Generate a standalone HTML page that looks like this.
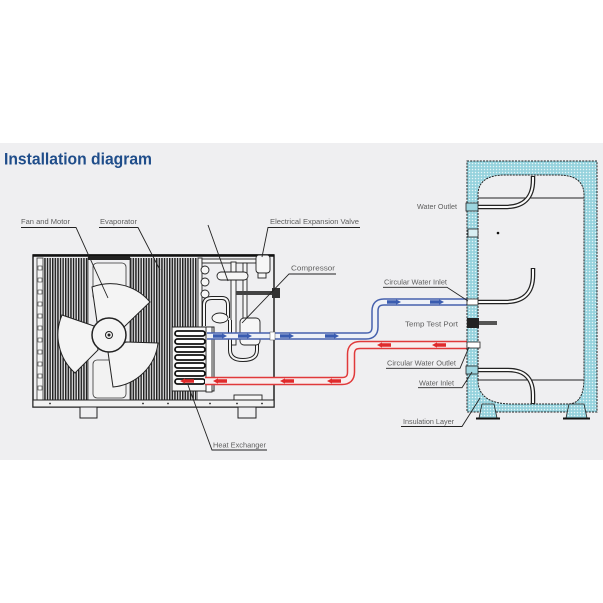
<!DOCTYPE html>
<html><head><meta charset="utf-8"><style>
html,body{margin:0;padding:0;background:#fff;}
svg{display:block;}
text{font-family:"Liberation Sans",sans-serif;}
</style></head><body>
<svg width="603" height="603" viewBox="0 0 603 603" xmlns="http://www.w3.org/2000/svg">
<defs>
<pattern id="fins" x="0" y="0" width="2.6" height="10" patternUnits="userSpaceOnUse">
<rect x="0" y="0" width="1.5" height="10" fill="#222"/>
</pattern>
<pattern id="dots" x="0" y="0" width="3" height="3" patternUnits="userSpaceOnUse">
<rect width="3" height="3" fill="#95d2dd"/>
<circle cx="1.5" cy="1.5" r="0.75" fill="#e6f5f7"/>
</pattern>
</defs>
<rect x="0" y="0" width="603" height="603" fill="#fff"/>
<rect x="0" y="143" width="603" height="317" fill="#efeff1"/>
<text x="4" y="164.5" font-size="16.5" font-weight="bold" fill="#1f4d8a" textLength="148" lengthAdjust="spacingAndGlyphs">Installation diagram</text>

<!-- Heat pump unit -->
<rect x="33" y="255" width="241" height="152" fill="#efeff1" stroke="#222" stroke-width="1.5"/>
<line x1="33" y1="255.5" x2="274" y2="255.5" stroke="#111" stroke-width="2.5"/>
<rect x="37" y="258" width="6" height="142" fill="#f4f4f4" stroke="#333" stroke-width="0.8"/>
<g fill="#fff" stroke="#333" stroke-width="0.6">
<rect x="38" y="266" width="4" height="4"/><rect x="38" y="278" width="4" height="4"/>
<rect x="38" y="290" width="4" height="4"/><rect x="38" y="302" width="4" height="4"/>
<rect x="38" y="314" width="4" height="4"/><rect x="38" y="326" width="4" height="4"/>
<rect x="38" y="338" width="4" height="4"/><rect x="38" y="350" width="4" height="4"/>
<rect x="38" y="362" width="4" height="4"/><rect x="38" y="374" width="4" height="4"/>
<rect x="38" y="386" width="4" height="4"/>
</g>
<rect x="44" y="258" width="44" height="142" fill="url(#fins)"/>
<rect x="130" y="258" width="68" height="142" fill="url(#fins)"/>
<rect x="88" y="258" width="42" height="142" fill="#efeff1" stroke="#333" stroke-width="0.8"/>
<rect x="88" y="256" width="42" height="4" fill="#222"/>
<rect x="93" y="263" width="33" height="37" rx="4" fill="#f2f2f2" stroke="#333" stroke-width="0.8"/>
<rect x="93" y="360" width="33" height="38" rx="4" fill="#f2f2f2" stroke="#333" stroke-width="0.8"/>

<!-- fan -->
<g fill="#f4f4f4" stroke="#222" stroke-width="1">
<path d="M97,322 L92,287 A52,52 0 0 1 150,302 L124,327 Z"/>
<path d="M94,326 L62,315 A51,51 0 0 0 75,373 L98,350 Z"/>
<path d="M126,342 L158,343 A50,50 0 0 1 113,387 L108,352 Z"/>
<circle cx="109" cy="335" r="17" stroke-width="1.5"/>
<circle cx="109" cy="335" r="3.5"/>
</g>
<circle cx="109" cy="335" r="1.5" fill="#222"/>

<!-- compressor section -->
<g fill="#f6f6f6" stroke="#222" stroke-width="0.9">
<rect x="198" y="258" width="4" height="72"/>
<rect x="202" y="259" width="54" height="4"/>
<rect x="256" y="255" width="14" height="18" rx="3"/>
<rect x="258" y="273" width="8" height="5"/>
<rect x="231" y="262" width="5" height="83"/>
<rect x="243" y="263" width="4" height="67"/>
<rect x="217" y="272" width="31" height="8" rx="4"/>
<path d="M230,320 L230,350 Q230,360 243,360 Q257,360 257,350 L257,320" fill="none" stroke-width="4"/>
<path d="M230,320 L230,350 Q230,360 243,360 Q257,360 257,350 L257,320" fill="none" stroke="#f6f6f6" stroke-width="2"/>
<rect x="240" y="318" width="20" height="27" rx="4"/>
<circle cx="205" cy="270" r="4"/><circle cx="205" cy="282" r="4"/><circle cx="205" cy="294" r="4"/>
<path d="M204,326 L204,305 Q204,298 212,298 L222,298 Q228,298 228,305 L228,318" fill="none" stroke-width="4"/>
<path d="M204,326 L204,305 Q204,298 212,298 L222,298 Q228,298 228,305 L228,318" fill="none" stroke="#f6f6f6" stroke-width="2"/>
<ellipse cx="220" cy="318" rx="8" ry="5"/>
<rect x="234" y="395" width="28" height="5"/>
</g>
<rect x="236" y="291" width="40" height="4" fill="#444"/>
<rect x="272" y="288" width="8" height="10" fill="#333"/>

<!-- heat exchanger -->
<rect x="172" y="327" width="42" height="64" fill="#f6f6f6" stroke="#222" stroke-width="1"/>
<g fill="#fff" stroke="#111" stroke-width="1.8">
<rect x="175" y="331" width="30" height="5" rx="2.5"/>
<rect x="175" y="339" width="30" height="5" rx="2.5"/>
<rect x="175" y="347" width="30" height="5" rx="2.5"/>
<rect x="175" y="355" width="30" height="5" rx="2.5"/>
<rect x="175" y="363" width="30" height="5" rx="2.5"/>
<rect x="175" y="371" width="30" height="5" rx="2.5"/>
<rect x="175" y="379" width="30" height="5" rx="2.5"/>
</g>
<rect x="206" y="327" width="6" height="65" fill="#fff" stroke="#222" stroke-width="0.9"/>

<!-- base and feet -->
<rect x="33" y="400" width="241" height="7" fill="#f2f2f2" stroke="#222" stroke-width="1"/>
<g fill="#222"><circle cx="50" cy="403.5" r="0.9"/><circle cx="143" cy="403.5" r="0.9"/><circle cx="168" cy="403.5" r="0.9"/><circle cx="210" cy="403.5" r="0.9"/><circle cx="237" cy="403.5" r="0.9"/><circle cx="262" cy="403.5" r="0.9"/></g>
<rect x="80" y="407" width="17" height="11" fill="#efeff1" stroke="#222" stroke-width="1"/>
<rect x="238" y="407" width="18" height="11" fill="#efeff1" stroke="#222" stroke-width="1"/>

<!-- pipes -->
<path d="M207,336 L366,336 Q375,336 375,327 L375,311 Q375,302 384,302 L467,302" fill="none" stroke="#4661ad" stroke-width="7.5"/>
<path d="M207,336 L366,336 Q375,336 375,327 L375,311 Q375,302 384,302 L467,302" fill="none" stroke="#eef1f7" stroke-width="4.5"/>
<path d="M205,381 L342,381 Q351,381 351,372 L351,354 Q351,345 360,345 L467,345" fill="none" stroke="#e0393a" stroke-width="8.5"/>
<path d="M205,381 L342,381 Q351,381 351,372 L351,354 Q351,345 360,345 L467,345" fill="none" stroke="#f8eeee" stroke-width="5.5"/>
<rect x="270" y="332" width="5" height="8" fill="#fff" stroke="#555" stroke-width="0.5"/>

<g fill="#3a5cb0">
<polygon points="213,334.3 222,334.3 222,333.4 227,336 222,338.6 222,337.7 213,337.7"/>
<polygon points="238,334.3 247,334.3 247,333.4 252,336 247,338.6 247,337.7 238,337.7"/>
<polygon points="280,334.3 289,334.3 289,333.4 294,336 289,338.6 289,337.7 280,337.7"/>
<polygon points="325,334.3 334,334.3 334,333.4 339,336 334,338.6 334,337.7 325,337.7"/>
<polygon points="387,300.3 396,300.3 396,299.4 401,302 396,304.6 396,303.7 387,303.7"/>
<polygon points="430,300.3 439,300.3 439,299.4 444,302 439,304.6 439,303.7 430,303.7"/>
</g>
<g fill="#e02a2b">
<polygon points="180,381 185,378.4 185,379.3 194,379.3 194,382.7 185,382.7 185,383.6"/>
<polygon points="213,381 218,378.4 218,379.3 227,379.3 227,382.7 218,382.7 218,383.6"/>
<polygon points="280,381 285,378.4 285,379.3 294,379.3 294,382.7 285,382.7 285,383.6"/>
<polygon points="327,381 332,378.4 332,379.3 341,379.3 341,382.7 332,382.7 332,383.6"/>
<polygon points="377,345 382,342.4 382,343.3 391,343.3 391,346.7 382,346.7 382,347.6"/>
<polygon points="432,345 437,342.4 437,343.3 446,343.3 446,346.7 437,346.7 437,347.6"/>
</g>

<!-- tank -->
<rect x="467" y="161" width="130" height="251" fill="url(#dots)" stroke="#222" stroke-width="1" stroke-dasharray="2 1.2"/>
<path d="M478,380 L478,195 Q478,175 505,175 L558,175 Q584,175 584,195 L584,378 Q584,404 568,404 L512,404 Q478,404 478,380 Z" fill="#efeff1" stroke="#222" stroke-width="1" stroke-dasharray="2 1"/>
<line x1="478" y1="198" x2="584" y2="198" stroke="#222" stroke-width="1"/>
<line x1="478" y1="380" x2="584" y2="380" stroke="#222" stroke-width="1"/>
<g fill="none" stroke="#222" stroke-width="4.5">
<path d="M478,207 L505,207 Q533,207 533,180 L533,176"/>
<path d="M478,302 L505,302 Q533,302 533,275 L533,268"/>
<path d="M478,370 L508,370 Q533,370 533,395 L533,404"/>
</g>
<g fill="none" stroke="#fafafa" stroke-width="2">
<path d="M478,207 L505,207 Q533,207 533,180 L533,177"/>
<path d="M478,302 L505,302 Q533,302 533,275 L533,269"/>
<path d="M478,370 L508,370 Q533,370 533,395 L533,403"/>
</g>
<circle cx="498" cy="233" r="1.3" fill="#111"/>
<!-- fittings -->
<rect x="466" y="203" width="12" height="8" fill="#9dd5df" stroke="#222" stroke-width="0.8"/>
<rect x="468" y="229" width="10" height="8" fill="#d8eef2" stroke="#222" stroke-width="0.8"/>
<rect x="467" y="299" width="11" height="6" fill="#fff" stroke="#222" stroke-width="0.8"/>
<rect x="467" y="318" width="12" height="10" fill="#222"/>
<rect x="479" y="321" width="18" height="4" fill="#555"/>
<rect x="467" y="342" width="13" height="6" fill="#fff" stroke="#222" stroke-width="0.8"/>
<rect x="466" y="366" width="12" height="8" fill="#9dd5df" stroke="#222" stroke-width="0.8"/>
<!-- feet -->
<path d="M482,404 L494,404 L497,418 L479,418 Z" fill="url(#dots)" stroke="#222" stroke-width="0.8"/>
<line x1="476" y1="418.5" x2="500" y2="418.5" stroke="#111" stroke-width="2"/>
<path d="M569,404 L584,404 L587,418 L566,418 Z" fill="url(#dots)" stroke="#222" stroke-width="0.8"/>
<line x1="563" y1="418.5" x2="590" y2="418.5" stroke="#111" stroke-width="2"/>

<!-- labels -->
<g font-size="7" fill="#5e5e5e">
<text x="21" y="224" textLength="49" lengthAdjust="spacingAndGlyphs">Fan and Motor</text>
<text x="100" y="224" textLength="37" lengthAdjust="spacingAndGlyphs">Evaporator</text>
<text x="270" y="224" textLength="89" lengthAdjust="spacingAndGlyphs">Electrical Expansion Valve</text>
<text x="291" y="270.5" textLength="44" lengthAdjust="spacingAndGlyphs">Compressor</text>
<text x="213" y="447.3" textLength="53" lengthAdjust="spacingAndGlyphs">Heat Exchanger</text>
<text x="417" y="208.8" textLength="40" lengthAdjust="spacingAndGlyphs">Water Outlet</text>
<text x="384" y="284.3" textLength="63" lengthAdjust="spacingAndGlyphs">Circular Water Inlet</text>
<text x="405" y="326.5" textLength="53" lengthAdjust="spacingAndGlyphs">Temp  Test Port</text>
<text x="387" y="365.3" textLength="69" lengthAdjust="spacingAndGlyphs">Circular Water Outlet</text>
<text x="419" y="385.3" textLength="35" lengthAdjust="spacingAndGlyphs">Water Inlet</text>
<text x="403" y="424" textLength="51" lengthAdjust="spacingAndGlyphs">Insulation Layer</text>
</g>
<g fill="none" stroke="#222" stroke-width="0.9">
<polyline points="21,227.5 76,227.5 108,298"/>
<polyline points="99,227.5 138,227.5 160,270"/>
<line x1="208" y1="225" x2="228" y2="281"/>
<polyline points="360,227.5 268,227.5 262,257"/>
<polyline points="336,274 289,274 242,323"/>
<polyline points="267,450 212,450 188,385"/>
<polyline points="383,287.3 447,287.3 468,301"/>
<polyline points="386,368.3 460,368.3 469,347"/>
<polyline points="418,387.7 462,387.7 472,372"/>
<polyline points="401,426.5 462,426.5 480,398"/>
</g>
</svg>
</body></html>
